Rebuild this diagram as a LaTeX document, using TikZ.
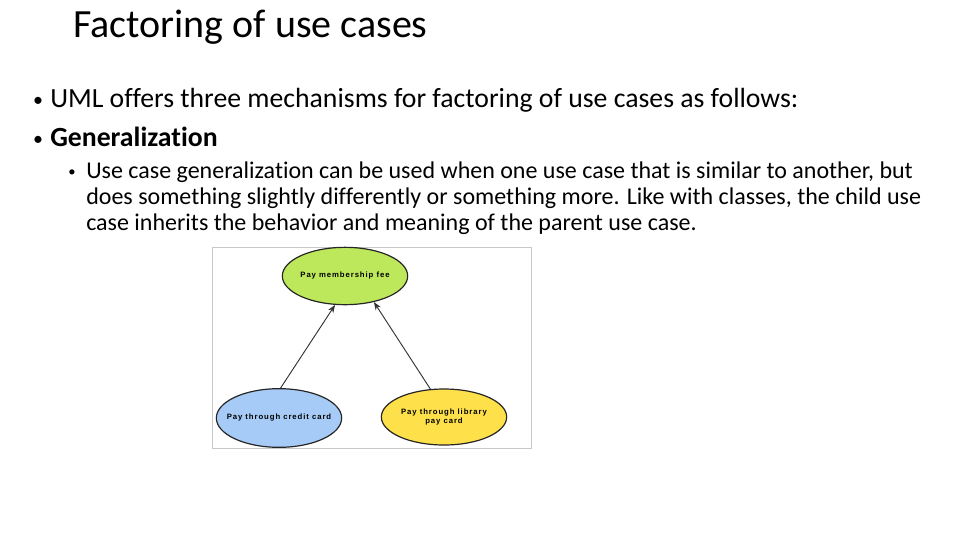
\documentclass[tikz,border=0pt]{standalone}
\usepackage{fontspec}
\setmainfont{Carlito}[Ligatures=NoCommon]
\newfontfamily\ucfont[LetterSpace=12]{Liberation Sans}
\usetikzlibrary{arrows.meta,shapes.geometric}
\definecolor{ucgreen}{HTML}{BDE85C}
\definecolor{ucblue}{HTML}{A6CBF7}
\definecolor{ucyellow}{HTML}{FDE04A}
\definecolor{framegray}{HTML}{C8C8C8}
\newcommand{\uclabel}[1]{\makebox[0pt]{\begin{tabular}{@{}c@{}}#1\end{tabular}}}
\begin{document}
\begin{tikzpicture}[
		x=0.75pt, y=-0.75pt,
		txt/.style={anchor=base west, inner sep=0pt, font=\fontsize{20.8}{24}\selectfont},
		subtxt/.style={anchor=base west, inner sep=0pt, font=\fontsize{18}{22}\selectfont},
		dot/.style={anchor=base, inner sep=0pt},
		usecase/.style={
			draw=black!85,
			ellipse,
			line width=0.9pt,
			minimum width=94pt,
			minimum height=43pt,
			inner sep=0pt,
			font=\ucfont\bfseries\fontsize{5.8}{7}\selectfont
		},
		gen/.style={draw=black!80, line width=0.7pt, -{Stealth[length=6pt,width=4.5pt]}}
		]
		
		\useasboundingbox (0,0) rectangle (960,540);
		
		% Title
		\node[anchor=base west, inner sep=0pt, font=\fontsize{30}{36}\selectfont] (title) at (73,37) {Factoring of use cases};
		
		% Bullets
		\node[dot, font=\fontsize{15}{16}\selectfont] (b1dot) at (38,106) {•};
		\node[txt] (b1) at (50,107) {UML offers three mechanisms for factoring of use cases as follows:};
		\node[dot, font=\fontsize{15}{16}\selectfont] (b2dot) at (38,145) {•};
		\node[txt] (b2) at (50,146) {\bfseries Generalization};
		
		% Sub-bullet
		\node[dot, font=\fontsize{11}{12}\selectfont] (s1dot) at (72,176) {•};
		\node[subtxt] (s1) at (86,178) {Use case generalization can be used when one use case that is similar to another, but};
		\node[subtxt] (s2) at (86,204) {does something slightly differently or something more. Like with classes, the child use};
		\node[subtxt] (s3) at (86,230) {case inherits the behavior and meaning of the parent use case.};
		
		% Diagram frame
		\draw[framegray, line width=0.6pt] (212,247) rectangle (531,448);
		
		% Use cases
		\node[usecase, fill=ucgreen] (fee) at (345,276) {\uclabel{Pay membership fee}};
		\node[usecase, fill=ucblue, minimum height=44pt] (credit) at (279,418) {\uclabel{Pay through credit card}};
		\node[usecase, fill=ucyellow, minimum height=42pt] (library) at (444,417) {\uclabel{Pay through library\\pay card}};
		
		% Generalization arrows
		\draw[gen] (credit.87) -- (fee.251);
		\draw[gen] (library.116) -- (fee.318);
		
	\end{tikzpicture}
\end{document}
